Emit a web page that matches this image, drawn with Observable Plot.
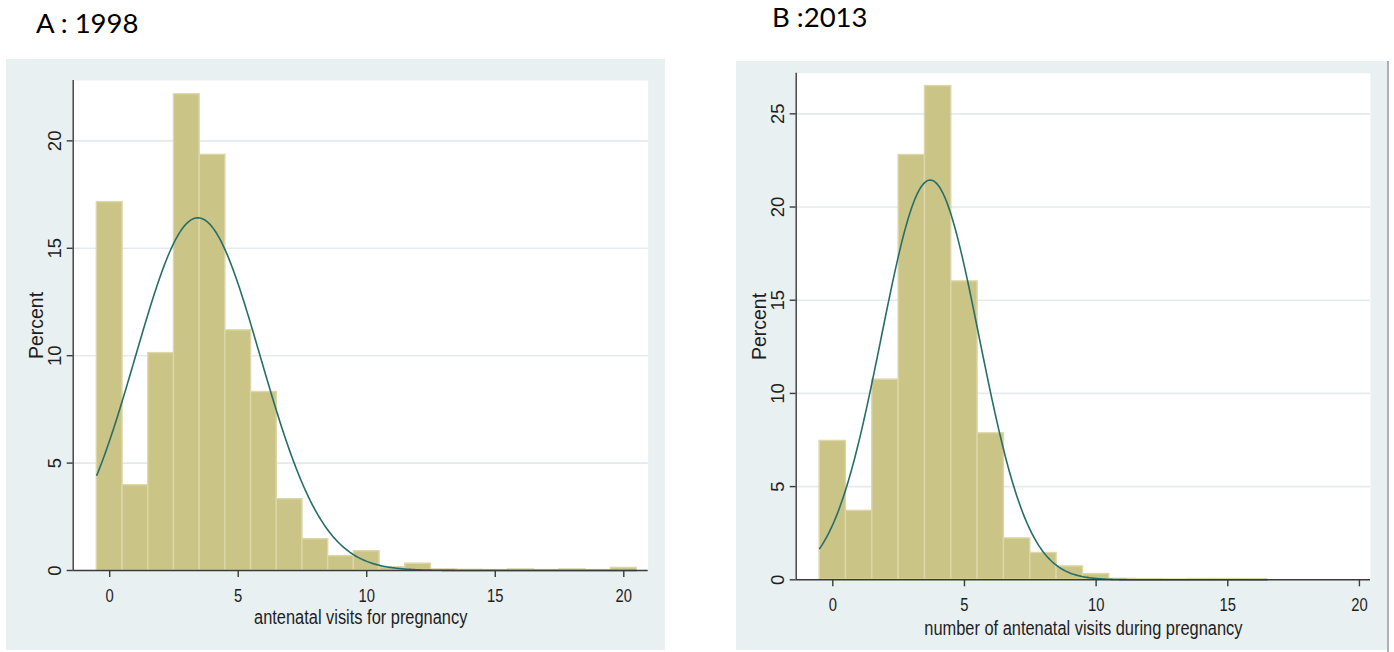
<!DOCTYPE html>
<html>
<head>
<meta charset="utf-8">
<script src="https://cdn.jsdelivr.net/npm/d3@7"></script>
<script src="https://cdn.jsdelivr.net/npm/@observablehq/plot@0.6"></script>
<style>
  body { margin: 0; background: #ffffff; }
  #page { position: relative; width: 1394px; height: 652px; overflow: hidden; background: #ffffff; }
  .bg { position: absolute; background: #e9f0f2; }
  .title { position: absolute; font-family: Lato, "Open Sans", sans-serif; font-size: 27.5px; line-height: normal; color: #000; white-space: nowrap; }
  .chart { position: absolute; }
</style>
</head>
<body>
<div id="page">
  <div class="title" style="left:36px; top:6.2px;">A : 1998</div>
  <div class="title" style="left:772px; top:0.4px;">B :2013</div>
  <div class="bg" style="left:6px; top:59px; width:659px; height:591px;"></div>
  <div class="bg" style="left:736px; top:61px; width:651px; height:589px;"></div>
  <div style="position:absolute; left:1387px; top:61px; width:2px; height:591px; background:#aab0b3;"></div>
  <div class="chart" id="chartA" style="left:6px; top:59px;"></div>
  <div class="chart" id="chartB" style="left:736px; top:61px;"></div>
</div>
<script>
// ---- Data ----
// Panel A (1998): percent of women by number of antenatal visits
const visitsA  = [0, 1, 2, 3, 4, 5, 6, 7, 8, 9, 10, 11, 12, 13, 14, 15, 16, 17, 18, 19, 20];
const percentA = [17.15, 3.97, 10.12, 22.17, 19.35, 11.18, 8.31, 3.32, 1.46, 0.67, 0.9, 0.15, 0.32, 0.05, 0.03, 0.02, 0.05, 0.02, 0.05, 0.02, 0.12];
// fitted normal density overlay (Stata "normal" option) for A
const meanA = 3.43;
const sdA = 2.43;

// Panel B (2013)
const visitsB  = [0, 1, 2, 3, 4, 5, 6, 7, 8, 9, 10, 11, 12, 13, 14, 15, 16];
const percentB = [7.45, 3.7, 10.74, 22.79, 26.49, 16.01, 7.86, 2.22, 1.44, 0.72, 0.31, 0.05, 0.03, 0.02, 0.04, 0.04, 0.03];
const meanB = 3.7;
const sdB = 1.86;

const xTicks  = [0, 5, 10, 15, 20];
const yTicksA = [0, 5, 10, 15, 20];
const yTicksB = [0, 5, 10, 15, 20, 25];
const yLabel  = "Percent";
const xLabelA = "antenatal visits for pregnancy";
const xLabelB = "number of antenatal visits during pregnancy";

// ---- Styles ----
const barFill = "#cbc487";
const barEdge = "#dcd7a8";
const curveColor = "#266e6a";
const axisColor = "#3a3a3a";
const gridColor = "#e3ebee";
const textColor = "#1e1e1e";
const regular = "'Liberation Sans', Arial, sans-serif";
const narrowSqueeze = 0.82; // x-axis texts in the reference use a narrow face

function normalCurve(mean, sd, lo, hi) {
  // percent scale, bin width 1
  return d3.range(lo, hi + 1e-9, 0.05).map(x => ({
    x, y: 100 * Math.exp(-0.5 * ((x - mean) / sd) ** 2) / (sd * Math.sqrt(2 * Math.PI))
  }));
}

function panel(cfg) {
  const bars = cfg.visits.map((v, i) => ({v, p: cfg.percent[i]}));
  const lo = cfg.visits[0] - 0.5;
  const hi = cfg.visits[cfg.visits.length - 1] + 0.5;
  const curve = normalCurve(cfg.mean, cfg.sd, lo, hi);
  return Plot.plot({
    width: cfg.width,
    height: cfg.height,
    marginLeft: cfg.ml, marginRight: cfg.mr, marginTop: cfg.mt, marginBottom: cfg.mb,
    style: {background: "transparent", overflow: "visible"},
    x: {domain: cfg.xDomain},
    y: {domain: cfg.yDomain},
    marks: [
      Plot.frame({fill: "white", stroke: null}),
      Plot.ruleY(cfg.yTicks.filter(t => t > 0), {stroke: gridColor, strokeWidth: 1.6}),
      Plot.rect(bars, {x1: d => d.v - 0.5, x2: d => d.v + 0.5, y1: d => 0, y2: d => d.p,
        fill: barFill, stroke: barEdge, strokeWidth: 1.4}),
      Plot.line(curve, {x: "x", y: "y", stroke: curveColor, strokeWidth: 1.6}),
      Plot.ruleY([cfg.yDomain[0]], {stroke: axisColor, strokeWidth: 1.4}),
      Plot.ruleX([cfg.xDomain[0]], {stroke: axisColor, strokeWidth: 1.4}),
      Plot.axisX({ticks: xTicks, tickSize: 7, tickPadding: 11.8, label: null, stroke: axisColor, strokeWidth: 1.4,
        fontSize: 18, fontFamily: regular, fill: textColor}),
      Plot.axisY({ticks: cfg.yTicks, tickSize: 6, tickFormat: () => "", label: null, stroke: axisColor, strokeWidth: 1.4}),
      Plot.text(cfg.yTicks, {y: d => d, text: d => String(d), frameAnchor: "left", rotate: -90, dx: -17.7,
        textAnchor: "middle", lineAnchor: "middle", fontSize: 18.5, fontFamily: regular, fill: textColor}),
      Plot.text([yLabel], {text: d => d, frameAnchor: "left", rotate: -90, dx: -36.5,
        textAnchor: "middle", lineAnchor: "middle", fontSize: 19.5, fontFamily: regular, fill: textColor}),
      Plot.text([cfg.xLabel], {text: d => d, frameAnchor: "bottom", dy: cfg.titleDy,
        textAnchor: "middle", lineAnchor: "middle", fontSize: 20, fontFamily: regular, fill: textColor})
    ]
  });
}

// Squeeze the x-axis tick labels and x title horizontally (narrow face in the reference)
function condense(svg, xLabel) {
  const targets = [...svg.querySelectorAll("g[aria-label='x-axis tick label'] text")]
    .concat([...svg.querySelectorAll("text")].filter(t => t.textContent === xLabel));
  targets.forEach(t => {
    const len = t.getComputedTextLength();
    if (len > 0) {
      t.setAttribute("textLength", (len * narrowSqueeze).toFixed(2));
      t.setAttribute("lengthAdjust", "spacingAndGlyphs");
    }
  });
}

const svgA = panel({
  visits: visitsA, percent: percentA, mean: meanA, sd: sdA,
  width: 659, height: 591, ml: 66.7, mr: 17.3, mt: 21, mb: 80,
  xDomain: [-1.42, 20.95], yDomain: [0, 22.81], yTicks: yTicksA,
  xLabel: xLabelA, titleDy: 47.3
});
document.getElementById("chartA").appendChild(svgA);
condense(svgA, xLabelA);

const svgB = panel({
  visits: visitsB, percent: percentB, mean: meanB, sd: sdB,
  width: 651, height: 589, ml: 59.7, mr: 17, mt: 11.7, mb: 70.7,
  xDomain: [-1.39, 20.42], yDomain: [0, 27.18], yTicks: yTicksB,
  xLabel: xLabelB, titleDy: 49.2
});
document.getElementById("chartB").appendChild(svgB);
condense(svgB, xLabelB);
</script>
</body>
</html>
